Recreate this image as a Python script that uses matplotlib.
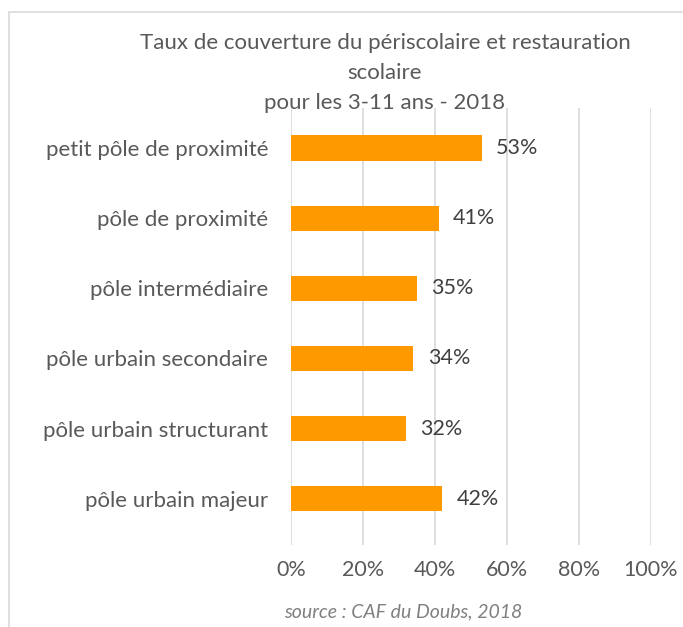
import matplotlib
matplotlib.use('Agg')
import matplotlib.pyplot as plt
from matplotlib.patches import Rectangle

plt.rcParams['font.family'] = ['Lato', 'DejaVu Sans']

categories = ['petit pôle de proximité', 'pôle de proximité', 'pôle intermédiaire',
              'pôle urbain secondaire', 'pôle urbain structurant', 'pôle urbain majeur']
taux = [53, 41, 35, 34, 32, 42]
ticks = [0, 20, 40, 60, 80, 100]

txt = '#595959'

fig = plt.figure(figsize=(6.83, 6.27), dpi=100)
ax = fig.add_axes([291 / 683, 1 - 545 / 627, 360 / 683, 437 / 627])

pos = list(range(len(categories)))[::-1]
ax.barh(pos, taux, height=0.36, color='#ff9900', zorder=3)
for p, v in zip(pos, taux):
    ax.text(v + 4, p, f'{v}%', va='center', ha='left', fontsize=15.5, color='#404040')

ax.set_xlim(0, 100)
ax.set_ylim(-0.66, 5.57)
ax.set_yticks(pos)
ax.set_yticklabels(categories, fontsize=16, color=txt)
ax.set_xticks(ticks)
ax.set_xticklabels([f'{t}%' for t in ticks], fontsize=15.5, color=txt)
ax.tick_params(length=0)
ax.tick_params(axis='y', pad=16.5)
ax.tick_params(axis='x', pad=11)
ax.grid(axis='x', color='#d9d9d9', linewidth=1.2, zorder=0)
for s in ax.spines.values():
    s.set_visible(False)

fig.text(385 / 683, 1 - 73 / 627,
         'Taux de couverture du périscolaire et restauration\nscolaire\npour les 3-11 ans - 2018',
         ha='center', va='center', fontsize=16, color=txt, linespacing=1.65)
fig.text(403 / 683, 1 - 612 / 627, 'source : CAF du Doubs, 2018',
         ha='center', va='center', fontsize=14, color='#808080', style='italic')

# light frame around the chart area
fig.patches.append(Rectangle((9 / 683, -0.05), 1.0, 1 - 12 / 627 + 0.05,
                             transform=fig.transFigure, fill=False,
                             edgecolor='#d9d9d9', linewidth=1.2))

fig.savefig('out.png', dpi=100)
